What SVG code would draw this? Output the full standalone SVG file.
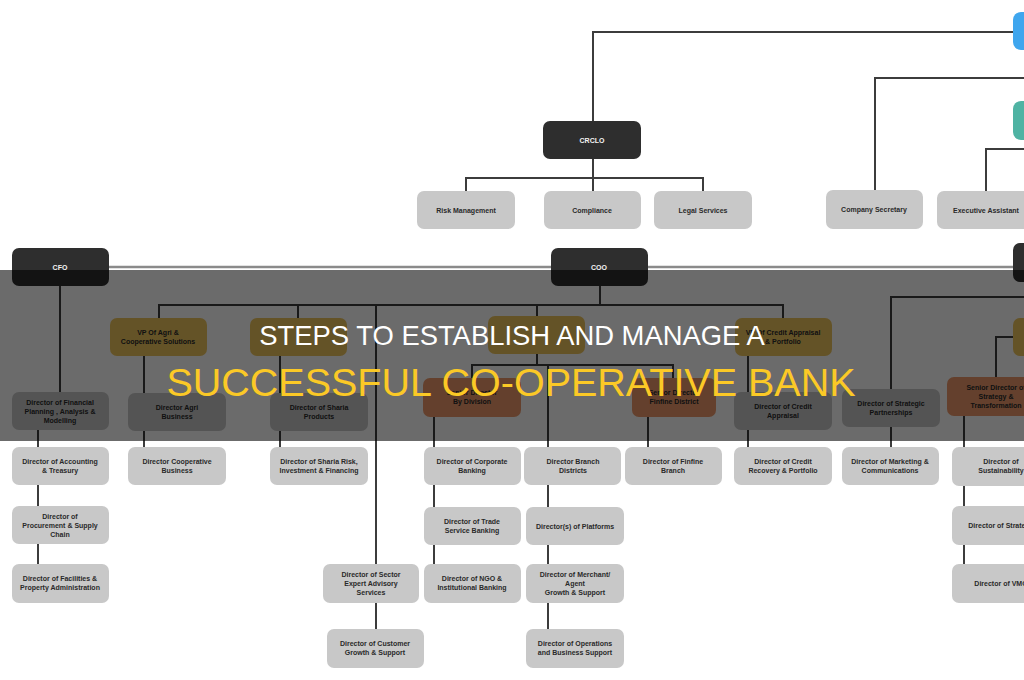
<svg xmlns="http://www.w3.org/2000/svg" width="1024" height="680" viewBox="0 0 1024 680">
<style>
.lt{fill:#c8c8c8}
.dk{fill:#2e2e2e}
.gd{fill:#efc65e}
.br{fill:#ee9a6c}
.bl{fill:#3fa6ee}
.tl{fill:#4fb3a3}
.t{font-family:"Liberation Sans",Arial,sans-serif;font-size:7px;font-weight:bold;fill:#2a2a2a;text-anchor:middle}
.tw{font-family:"Liberation Sans",Arial,sans-serif;font-size:7px;font-weight:bold;fill:#f2f2f2;text-anchor:middle}
.c path{fill:none;stroke:#3c3c3c;stroke-width:2}
.h1{font-family:"Liberation Sans",Arial,sans-serif;font-size:27.4px;fill:#ffffff;text-anchor:middle}
.h2{font-family:"Liberation Sans",Arial,sans-serif;font-size:39.5px;fill:#fbc926;text-anchor:middle}
</style>
<rect width="1024" height="680" fill="#ffffff"/>
<g class="c" id="connectors">
<path d="M593,121 V32 H1013"/>
<path d="M875,190 V78 H1024"/>
<path d="M986,191 V149 H1024"/>
<path d="M593,159 V191 M466,191 V178 H703 V191"/>
<path d="M109,267 H551 M648,267 H1013" style="stroke:#8a8a8a;stroke-width:2.5"/>
<path d="M600,286 V305 M159,318 V305 H783 V318 M298,305 V318 M537,305 V316"/>
<path d="M376,305 V564 M376,603 V629"/>
<path d="M60,286 V392"/>
<path d="M38,430 V564"/>
<path d="M144,356 V447"/>
<path d="M280,356 V447"/>
<path d="M537,354 V365 M472,378 V365 H673 V378 M548,365 V629"/>
<path d="M434,417 V564"/>
<path d="M648,417 V447"/>
<path d="M748,356 V447"/>
<path d="M891,447 V297 H1024"/>
<path d="M996,378 V337 H1013"/>
<path d="M964,416 V564"/>
</g>
<g id="ceo"><rect class="bl" x="1013" y="12" width="40" height="38" rx="8"/></g>
<g id="board"><rect class="tl" x="1013" y="101" width="40" height="39" rx="8"/></g>
<g id="crclo"><rect class="dk" x="543" y="121" width="98" height="38" rx="7"/><text class="tw" x="592" y="143">CRCLO</text></g>
<g id="risk"><rect class="lt" x="417" y="191" width="98" height="38" rx="7"/><text class="t" x="466" y="213">Risk Management</text></g>
<g id="compliance"><rect class="lt" x="544" y="191" width="97" height="38" rx="7"/><text class="t" x="592" y="213">Compliance</text></g>
<g id="legal"><rect class="lt" x="654" y="191" width="98" height="38" rx="7"/><text class="t" x="703" y="213">Legal Services</text></g>
<g id="secretary"><rect class="lt" x="826" y="190" width="97" height="39" rx="7"/><text class="t" x="874" y="212">Company Secretary</text></g>
<g id="assistant"><rect class="lt" x="937" y="191" width="98" height="38" rx="7"/><text class="t" x="986" y="213">Executive Assistant</text></g>
<g id="cfo"><rect class="dk" x="12" y="248" width="97" height="38" rx="7"/><text class="tw" x="60" y="270">CFO</text></g>
<g id="coo"><rect class="dk" x="551" y="248" width="97" height="38" rx="7"/><text class="tw" x="599" y="270">COO</text></g>
<g id="cxo"><rect class="dk" x="1013" y="243" width="40" height="39" rx="7"/></g>
<g id="vp-agri"><rect class="gd" x="110" y="318" width="97" height="38" rx="7"/><text class="t" x="158" y="335">VP Of Agri &amp;</text><text class="t" x="158" y="344">Cooperative Solutions</text></g>
<g id="vp-2"><rect class="gd" x="250" y="318" width="97" height="38" rx="7"/></g>
<g id="vp-3"><rect class="gd" x="488" y="316" width="97" height="38" rx="7"/></g>
<g id="vp-credit"><rect class="gd" x="735" y="318" width="97" height="38" rx="7"/><text class="t" x="783" y="335">VP Of Credit Appraisal</text><text class="t" x="783" y="344">&amp; Portfolio</text></g>
<g id="vp-5"><rect class="gd" x="1013" y="318" width="40" height="38" rx="7"/></g>
<g id="sd-division"><rect class="br" x="423" y="378" width="98" height="39" rx="7"/><text class="t" x="472" y="395">Senior Director</text><text class="t" x="472" y="404">By Division</text></g>
<g id="sd-finfine"><rect class="br" x="632" y="378" width="84" height="39" rx="7"/><text class="t" x="674" y="395">Senior Director</text><text class="t" x="674" y="404">Finfine District</text></g>
<g id="sd-strategy"><rect class="br" x="947" y="377" width="98" height="39" rx="7"/><text class="t" x="996" y="390">Senior Director of</text><text class="t" x="996" y="399">Strategy &amp;</text><text class="t" x="996" y="408">Transformation</text></g>
<g id="fpa"><rect class="lt" x="12" y="392" width="97" height="38" rx="7"/><text class="t" x="60" y="405">Director of Financial</text><text class="t" x="60" y="414">Planning , Analysis &amp;</text><text class="t" x="60" y="423">Modelling</text></g>
<g id="agri-business"><rect class="lt" x="128" y="393" width="98" height="38" rx="7"/><text class="t" x="177" y="410">Director Agri</text><text class="t" x="177" y="419">Business</text></g>
<g id="sharia-products"><rect class="lt" x="270" y="393" width="98" height="38" rx="7"/><text class="t" x="319" y="410">Director of Sharia</text><text class="t" x="319" y="419">Products</text></g>
<g id="credit-appraisal"><rect class="lt" x="734" y="392" width="98" height="38" rx="7"/><text class="t" x="783" y="409">Director of Credit</text><text class="t" x="783" y="418">Appraisal</text></g>
<g id="partnerships"><rect class="lt" x="842" y="389" width="98" height="38" rx="7"/><text class="t" x="891" y="406">Director of Strategic</text><text class="t" x="891" y="415">Partnerships</text></g>
<g id="accounting"><rect class="lt" x="12" y="447" width="97" height="38" rx="7"/><text class="t" x="60" y="464">Director of Accounting</text><text class="t" x="60" y="473">&amp; Treasury</text></g>
<g id="procurement"><rect class="lt" x="12" y="506" width="97" height="38" rx="7"/><text class="t" x="60" y="519">Director of</text><text class="t" x="60" y="528">Procurement &amp; Supply</text><text class="t" x="60" y="537">Chain</text></g>
<g id="facilities"><rect class="lt" x="12" y="564" width="97" height="39" rx="7"/><text class="t" x="60" y="581">Director of Facilities &amp;</text><text class="t" x="60" y="590">Property Administration</text></g>
<g id="coop-business"><rect class="lt" x="128" y="447" width="98" height="38" rx="7"/><text class="t" x="177" y="464">Director Cooperative</text><text class="t" x="177" y="473">Business</text></g>
<g id="sharia-risk"><rect class="lt" x="270" y="447" width="98" height="38" rx="7"/><text class="t" x="319" y="464">Director of Sharia Risk,</text><text class="t" x="319" y="473">Investment &amp; Financing</text></g>
<g id="sector-expert"><rect class="lt" x="323" y="564" width="96" height="39" rx="7"/><text class="t" x="371" y="577">Director of Sector</text><text class="t" x="371" y="586">Expert Advisory</text><text class="t" x="371" y="595">Services</text></g>
<g id="customer-growth"><rect class="lt" x="327" y="629" width="97" height="39" rx="7"/><text class="t" x="375" y="646">Director of Customer</text><text class="t" x="375" y="655">Growth &amp; Support</text></g>
<g id="corporate"><rect class="lt" x="424" y="447" width="97" height="38" rx="7"/><text class="t" x="472" y="464">Director of Corporate</text><text class="t" x="472" y="473">Banking</text></g>
<g id="trade"><rect class="lt" x="424" y="507" width="97" height="38" rx="7"/><text class="t" x="472" y="524">Director of Trade</text><text class="t" x="472" y="533">Service Banking</text></g>
<g id="ngo"><rect class="lt" x="424" y="564" width="97" height="39" rx="7"/><text class="t" x="472" y="581">Director of NGO &amp;</text><text class="t" x="472" y="590">Institutional Banking</text></g>
<g id="branch-districts"><rect class="lt" x="524" y="447" width="97" height="38" rx="7"/><text class="t" x="573" y="464">Director Branch</text><text class="t" x="573" y="473">Districts</text></g>
<g id="platforms"><rect class="lt" x="526" y="507" width="98" height="38" rx="7"/><text class="t" x="575" y="529">Director(s) of Platforms</text></g>
<g id="merchant"><rect class="lt" x="526" y="564" width="98" height="39" rx="7"/><text class="t" x="575" y="577">Director of Merchant/</text><text class="t" x="575" y="586">Agent</text><text class="t" x="575" y="595">Growth &amp; Support</text></g>
<g id="operations"><rect class="lt" x="526" y="629" width="98" height="39" rx="7"/><text class="t" x="575" y="646">Director of Operations</text><text class="t" x="575" y="655">and Business Support</text></g>
<g id="finfine-branch"><rect class="lt" x="625" y="447" width="97" height="38" rx="7"/><text class="t" x="673" y="464">Director of Finfine</text><text class="t" x="673" y="473">Branch</text></g>
<g id="credit-recovery"><rect class="lt" x="734" y="447" width="98" height="38" rx="7"/><text class="t" x="783" y="464">Director of Credit</text><text class="t" x="783" y="473">Recovery &amp; Portfolio</text></g>
<g id="marketing"><rect class="lt" x="842" y="447" width="97" height="38" rx="7"/><text class="t" x="890" y="464">Director of Marketing &amp;</text><text class="t" x="890" y="473">Communications</text></g>
<g id="sustainability"><rect class="lt" x="952" y="447" width="98" height="39" rx="7"/><text class="t" x="1001" y="464">Director of</text><text class="t" x="1001" y="473">Sustainability</text></g>
<g id="strategy"><rect class="lt" x="952" y="506" width="98" height="39" rx="7"/><text class="t" x="1001" y="528">Director of Strategy</text></g>
<g id="vmo"><rect class="lt" x="952" y="564" width="98" height="39" rx="7"/><text class="t" x="1001" y="586">Director of VMO</text></g>
<rect x="0" y="270" width="1024" height="171" fill="#000000" fill-opacity="0.58"/>
<g id="title">
<text class="h1" x="512" y="345">STEPS TO ESTABLISH AND MANAGE A</text>
<text class="h2" x="511" y="396">SUCCESSFUL CO-OPERATIVE BANK</text>
</g>
</svg>
